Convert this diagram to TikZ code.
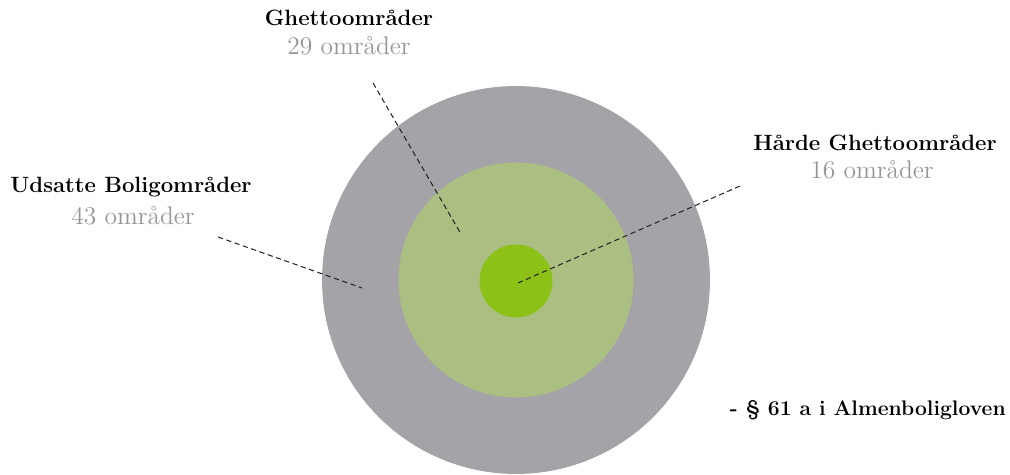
\documentclass[tikz,border=0pt]{standalone}
\usepackage{tikz}

\definecolor{outerC}{HTML}{A4A4A8}
\definecolor{midC}{HTML}{ABBF82}
\definecolor{innerC}{HTML}{8CC218}
\definecolor{countT}{HTML}{959595}

\begin{document}
\begin{tikzpicture}[
  x=0.02cm, y=-0.02cm,
  ring/.style={circle, fill=#1, draw=none, inner sep=0pt},
  ttl/.style={font=\fontsize{12.6}{14}\selectfont\bfseries, text=black, inner sep=0pt},
  cnt/.style={font=\fontsize{14.5}{16}\selectfont, text=countT, inner sep=0pt},
  lead/.style={densely dashed, line width=0.6pt, black!85},
]
\useasboundingbox (0,0) rectangle (1010,475);

% concentric areas (largest first = behind)
\node[ring=outerC, minimum size=7.76cm] (udsatte) at (516,280) {};
\node[ring=midC, minimum size=4.70cm] (ghetto) at (516,280) {};
\node[ring=innerC, minimum size=1.46cm] (haarde) at (516,281) {};

% --- labels ---
\node[ttl] (ghettoT) at (349,18) {Ghettoområder};
\node[cnt] (ghettoN) at (349,46) {29 områder};

\node[ttl] (udsatteT) at (131,187) {Udsatte Boligområder};
\node[cnt] (udsatteN) at (133,216) {43 områder};

\node[ttl] (haardeT) at (875,143) {Hårde Ghettoområder};
\node[cnt] (haardeN) at (872,170) {16 områder};

\node[ttl, font=\fontsize{12}{14}\selectfont\bfseries, anchor=east] (lov) at (1006,410) {- § 61 a i Almenboligloven};

% --- leader lines ---
\coordinate (ghettoA) at (373,83);
\coordinate (ghettoB) at (461,234);
\coordinate (udsatteA) at (218,237);
\coordinate (udsatteB) at (362,288);
\coordinate (haardeA) at (740,186);
\coordinate (haardeB) at (518,283);

\draw[lead] (ghettoA) -- (ghettoB);
\draw[lead] (udsatteA) -- (udsatteB);
\draw[lead] (haardeA) -- (haardeB);
\end{tikzpicture}
\end{document}
